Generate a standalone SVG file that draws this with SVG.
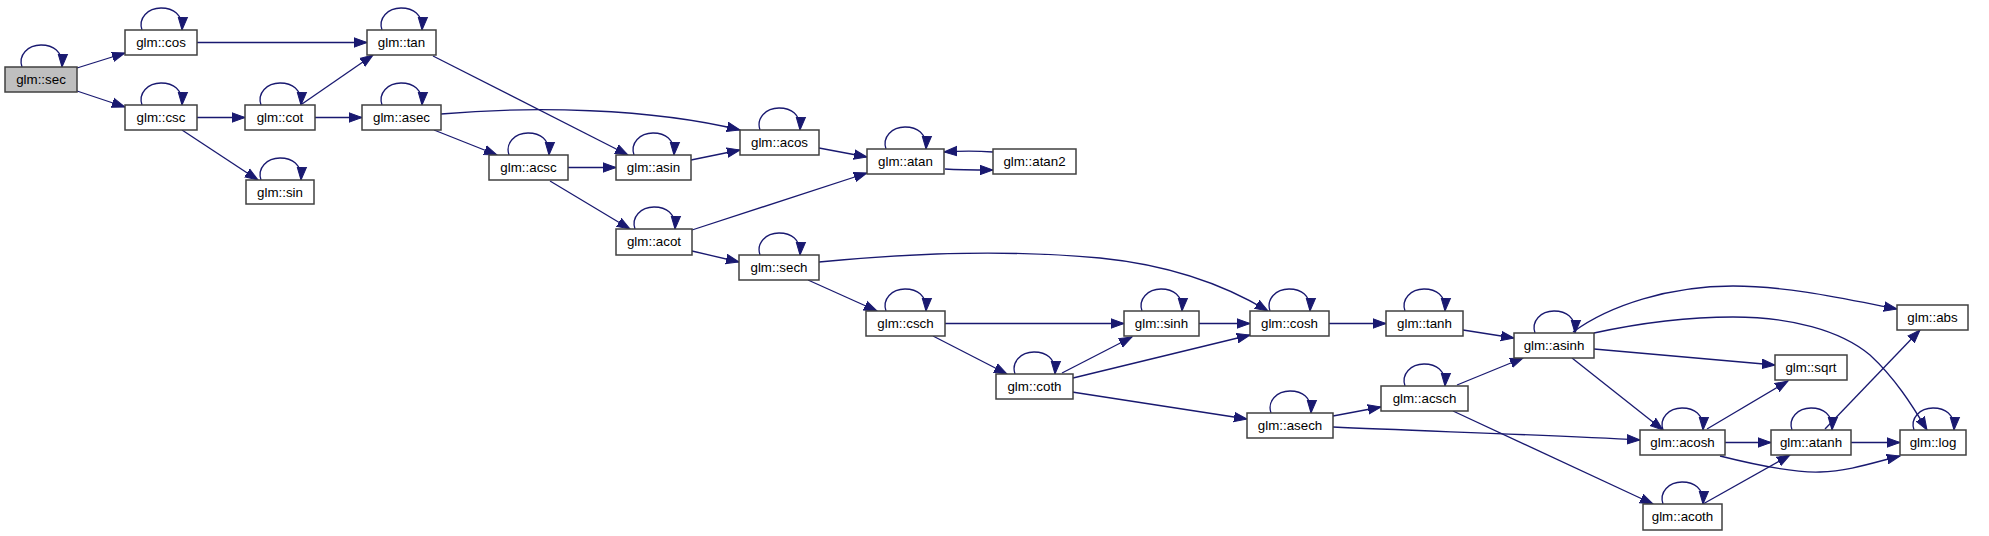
<svg xmlns="http://www.w3.org/2000/svg" width="1989" height="536" viewBox="0 0 1989 536">
<defs>
<style>
.n rect{fill:#ffffff;stroke:#404040;stroke-width:1.5}
.n.root rect{fill:#bfbfbf}
.n text{font-family:"Liberation Sans",Arial,sans-serif;font-size:13.33px;fill:#000;text-anchor:middle}
.e path{fill:none;stroke:#191970;stroke-width:1.3;marker-end:url(#ah)}
</style>
<marker id="ah" markerUnits="userSpaceOnUse" markerWidth="15" markerHeight="12" refX="13" refY="6" orient="auto" viewBox="0 0 15 12">
<path d="M0,1.3 L13,6 L0,10.7 z" fill="#191970" stroke="#191970" stroke-width="1"/>
</marker>
</defs>
<rect width="1989" height="536" fill="#ffffff"/>
<g id="edges" class="e">
<!-- self loops -->
<path d="M22,67 C18,55 28,45 41,45 C53,45 63,51 62,67"/>
<path d="M142,30 C138,18 148,8 161,8 C173,8 183,14 182,30"/>
<path d="M142,105 C138,93 148,83 161,83 C173,83 183,89 182,105"/>
<path d="M382,30 C378,18 388,8 401,8 C413,8 423,14 422,30"/>
<path d="M261,105 C257,93 267,83 280,83 C292,83 302,89 301,105"/>
<path d="M382,105 C378,93 388,83 401,83 C413,83 423,89 422,105"/>
<path d="M261,180 C257,168 267,158 280,158 C292,158 302,164 301,180"/>
<path d="M509,155 C505,143 515,133 528,133 C540,133 550,139 549,155"/>
<path d="M634,155 C630,143 640,133 653,133 C665,133 675,139 674,155"/>
<path d="M760,130 C756,118 766,108 779,108 C791,108 801,114 800,130"/>
<path d="M886,149 C882,137 892,127 905,127 C917,127 927,133 926,149"/>
<path d="M635,229 C631,217 641,207 654,207 C666,207 676,213 675,229"/>
<path d="M760,255 C756,243 766,233 779,233 C791,233 801,239 800,255"/>
<path d="M886,311 C882,299 892,289 905,289 C917,289 927,295 926,311"/>
<path d="M1015,374 C1011,362 1021,352 1034,352 C1046,352 1056,358 1055,374"/>
<path d="M1142,311 C1138,299 1148,289 1161,289 C1173,289 1183,295 1182,311"/>
<path d="M1270,311 C1266,299 1276,289 1289,289 C1301,289 1311,295 1310,311"/>
<path d="M1405,311 C1401,299 1411,289 1424,289 C1436,289 1446,295 1445,311"/>
<path d="M1271,413 C1267,401 1277,391 1290,391 C1302,391 1312,397 1311,413"/>
<path d="M1405,386 C1401,374 1411,364 1424,364 C1436,364 1446,370 1445,386"/>
<path d="M1535,333 C1531,321 1541,311 1554,311 C1566,311 1576,317 1575,333"/>
<path d="M1663,430 C1659,418 1669,408 1682,408 C1694,408 1704,414 1703,430"/>
<path d="M1792,430 C1788,418 1798,408 1811,408 C1823,408 1833,414 1832,430"/>
<path d="M1914,430 C1910,418 1920,408 1933,408 C1945,408 1955,414 1954,430"/>
<path d="M1663,504 C1659,492 1669,482 1682,482 C1694,482 1704,488 1703,504"/>
<!-- edges -->
<path d="M77,68 L125,53"/>
<path d="M77,91 L125,107"/>
<path d="M197,42.5 L367,42.5"/>
<path d="M197,117.5 L245,117.5"/>
<path d="M182,130 L258,180"/>
<path d="M302,104 L373,55"/>
<path d="M315,117.5 L362,117.5"/>
<path d="M433,56 L628,155"/>
<path d="M441,114 C530,106 650,108 740,130"/>
<path d="M434,130 L497,155"/>
<path d="M568,167.5 L616,167.5"/>
<path d="M691,160 L740,150"/>
<path d="M550,181 L630,229"/>
<path d="M692,230 L867,173"/>
<path d="M819,148 L867,157"/>
<path d="M945,169 C960,170 975,170 993,170"/>
<path d="M993,152 C978,151 960,151 944,152"/>
<path d="M692,251 L739,262"/>
<path d="M819,262 C900,254 1000,249 1100,258 C1170,265 1225,285 1268,311"/>
<path d="M808,280 L877,311"/>
<path d="M945,323.5 L1124,323.5"/>
<path d="M933,336 L1007,374"/>
<path d="M1062,373 L1132,337"/>
<path d="M1073,378 L1250,335"/>
<path d="M1072,392 L1247,419"/>
<path d="M1199,323.5 L1250,323.5"/>
<path d="M1329,323.5 L1386,323.5"/>
<path d="M1463,330 L1514,338"/>
<path d="M1333,416 L1381,407"/>
<path d="M1333,427 C1420,431 1550,435 1640,440"/>
<path d="M1457,385 L1523,358"/>
<path d="M1453,411 L1653,504"/>
<path d="M1573,332 C1610,305 1670,286 1733,286 C1790,286 1850,300 1897,309"/>
<path d="M1594,333 C1640,323 1690,317 1733,317 C1790,317 1840,330 1870,355 C1895,378 1912,405 1927,430"/>
<path d="M1594,349 L1775,365"/>
<path d="M1572,358 L1663,430"/>
<path d="M1707,429 L1788,381"/>
<path d="M1725,442.5 L1771,442.5"/>
<path d="M1720,456 C1760,466 1795,473 1820,472 C1850,471 1875,462 1900,456"/>
<path d="M1825,429 L1920,330"/>
<path d="M1851,442.5 L1900,442.5"/>
<path d="M1703,504 L1790,455"/>
</g>
<g id="node-sec" class="n root"><rect x="5" y="67" width="72" height="25"/><text x="41" y="84">glm::sec</text></g>
<g id="node-cos" class="n"><rect x="125" y="30" width="72" height="25"/><text x="161" y="47">glm::cos</text></g>
<g id="node-csc" class="n"><rect x="125" y="105" width="72" height="25"/><text x="161" y="122">glm::csc</text></g>
<g id="node-cot" class="n"><rect x="245" y="105" width="70" height="25"/><text x="280" y="122">glm::cot</text></g>
<g id="node-tan" class="n"><rect x="367" y="30" width="69" height="25"/><text x="401.5" y="47">glm::tan</text></g>
<g id="node-asec" class="n"><rect x="362" y="105" width="79" height="25"/><text x="401.5" y="122">glm::asec</text></g>
<g id="node-sin" class="n"><rect x="246" y="180" width="68" height="24"/><text x="280" y="197">glm::sin</text></g>
<g id="node-acsc" class="n"><rect x="489" y="155" width="79" height="25"/><text x="528.5" y="172">glm::acsc</text></g>
<g id="node-asin" class="n"><rect x="616" y="155" width="75" height="25"/><text x="653.5" y="172">glm::asin</text></g>
<g id="node-acos" class="n"><rect x="740" y="130" width="79" height="25"/><text x="779.5" y="147">glm::acos</text></g>
<g id="node-atan" class="n"><rect x="867" y="149" width="77" height="25"/><text x="905.5" y="166">glm::atan</text></g>
<g id="node-atan2" class="n"><rect x="993" y="149" width="83" height="25"/><text x="1034.5" y="166">glm::atan2</text></g>
<g id="node-acot" class="n"><rect x="616" y="229" width="76" height="26"/><text x="654" y="246">glm::acot</text></g>
<g id="node-sech" class="n"><rect x="739" y="255" width="80" height="25"/><text x="779" y="272">glm::sech</text></g>
<g id="node-csch" class="n"><rect x="866" y="311" width="79" height="25"/><text x="905.5" y="328">glm::csch</text></g>
<g id="node-coth" class="n"><rect x="996" y="374" width="77" height="25"/><text x="1034.5" y="391">glm::coth</text></g>
<g id="node-sinh" class="n"><rect x="1124" y="311" width="75" height="25"/><text x="1161.5" y="328">glm::sinh</text></g>
<g id="node-cosh" class="n"><rect x="1250" y="311" width="79" height="25"/><text x="1289.5" y="328">glm::cosh</text></g>
<g id="node-tanh" class="n"><rect x="1386" y="311" width="77" height="25"/><text x="1424.5" y="328">glm::tanh</text></g>
<g id="node-asech" class="n"><rect x="1247" y="413" width="86" height="25"/><text x="1290" y="430">glm::asech</text></g>
<g id="node-acsch" class="n"><rect x="1381" y="386" width="87" height="25"/><text x="1424.5" y="403">glm::acsch</text></g>
<g id="node-asinh" class="n"><rect x="1514" y="333" width="80" height="25"/><text x="1554" y="350">glm::asinh</text></g>
<g id="node-abs" class="n"><rect x="1897" y="305" width="71" height="25"/><text x="1932.5" y="322">glm::abs</text></g>
<g id="node-sqrt" class="n"><rect x="1775" y="355" width="72" height="25"/><text x="1811" y="372">glm::sqrt</text></g>
<g id="node-acosh" class="n"><rect x="1640" y="430" width="85" height="25"/><text x="1682.5" y="447">glm::acosh</text></g>
<g id="node-atanh" class="n"><rect x="1771" y="430" width="80" height="25"/><text x="1811" y="447">glm::atanh</text></g>
<g id="node-log" class="n"><rect x="1900" y="430" width="66" height="25"/><text x="1933" y="447">glm::log</text></g>
<g id="node-acoth" class="n"><rect x="1643" y="504" width="79" height="26"/><text x="1682.5" y="521">glm::acoth</text></g>
</svg>
